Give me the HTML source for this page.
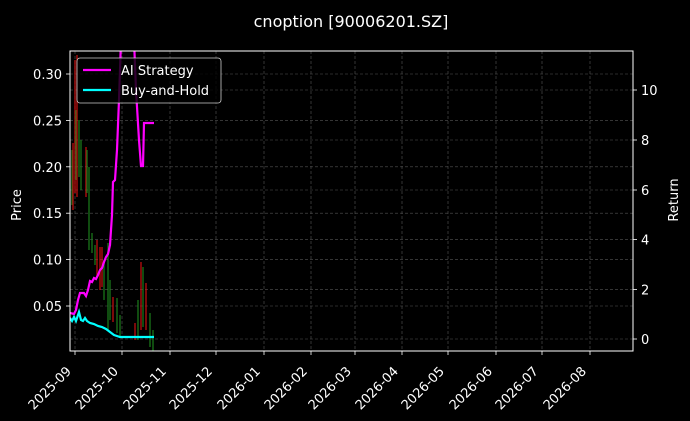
<!DOCTYPE html>
<html><head><meta charset="utf-8"><style>
html,body{margin:0;padding:0;background:#000;}
svg{display:block;font-family:"DejaVu Sans","Liberation Sans",sans-serif;}
</style></head><body>
<svg width="690" height="421" viewBox="0 0 690 421">
<rect width="690" height="421" fill="#000"/>
<text x="351" y="27" fill="#fff" font-size="16" text-anchor="middle">cnoption [90006201.SZ]</text>
<g stroke="#555" stroke-width="0.6" stroke-dasharray="3,2">
<line x1="75" y1="51" x2="75" y2="351"/><line x1="122" y1="51" x2="122" y2="351"/><line x1="170" y1="51" x2="170" y2="351"/><line x1="216" y1="51" x2="216" y2="351"/><line x1="264" y1="51" x2="264" y2="351"/><line x1="311" y1="51" x2="311" y2="351"/><line x1="355" y1="51" x2="355" y2="351"/><line x1="402" y1="51" x2="402" y2="351"/><line x1="448" y1="51" x2="448" y2="351"/><line x1="496" y1="51" x2="496" y2="351"/><line x1="542" y1="51" x2="542" y2="351"/><line x1="590" y1="51" x2="590" y2="351"/>
<line x1="70" y1="74" x2="633" y2="74"/><line x1="70" y1="120.4" x2="633" y2="120.4"/><line x1="70" y1="166.8" x2="633" y2="166.8"/><line x1="70" y1="213.2" x2="633" y2="213.2"/><line x1="70" y1="259.6" x2="633" y2="259.6"/><line x1="70" y1="306" x2="633" y2="306"/>
<line x1="70" y1="90" x2="633" y2="90"/><line x1="70" y1="140" x2="633" y2="140"/><line x1="70" y1="190" x2="633" y2="190"/><line x1="70" y1="239.6" x2="633" y2="239.6"/><line x1="70" y1="289.4" x2="633" y2="289.4"/><line x1="70" y1="339" x2="633" y2="339"/>
</g>
<g stroke-width="1.3" opacity="0.85">
<line x1="72" y1="150" x2="72" y2="205" stroke="#1f8a1f"/>
<line x1="73" y1="143" x2="73" y2="210" stroke="#d11"/>
<line x1="75" y1="60" x2="75" y2="193" stroke="#d11"/>
<line x1="76" y1="110" x2="76" y2="180" stroke="#1f8a1f"/>
<line x1="77" y1="55" x2="77" y2="197" stroke="#d11"/>
<line x1="79" y1="120" x2="79" y2="177" stroke="#1f8a1f"/>
<line x1="81" y1="140" x2="81" y2="190" stroke="#1f8a1f"/>
<line x1="86" y1="147" x2="86" y2="197" stroke="#d11"/>
<line x1="87" y1="150" x2="87" y2="193" stroke="#1f8a1f"/>
<line x1="89" y1="167" x2="89" y2="250" stroke="#1f8a1f"/>
<line x1="92" y1="233" x2="92" y2="253" stroke="#1f8a1f"/>
<line x1="95" y1="245" x2="95" y2="265" stroke="#1f8a1f"/>
<line x1="97" y1="240" x2="97" y2="277" stroke="#d11"/>
<line x1="100" y1="247" x2="100" y2="290" stroke="#d11"/>
<line x1="102" y1="247" x2="102" y2="287" stroke="#d11"/>
<line x1="104" y1="260" x2="104" y2="300" stroke="#1f8a1f"/>
<line x1="108" y1="243" x2="108" y2="330" stroke="#1f8a1f"/>
<line x1="110" y1="280" x2="110" y2="320" stroke="#1f8a1f"/>
<line x1="113" y1="297" x2="113" y2="322" stroke="#d11"/>
<line x1="117" y1="298" x2="117" y2="333" stroke="#1f8a1f"/>
<line x1="120" y1="315" x2="120" y2="338" stroke="#1f8a1f"/>
<line x1="135" y1="323" x2="135" y2="340" stroke="#d11"/>
<line x1="138" y1="300" x2="138" y2="340" stroke="#1f8a1f"/>
<line x1="141" y1="262" x2="141" y2="330" stroke="#d11"/>
<line x1="143" y1="267" x2="143" y2="327" stroke="#1f8a1f"/>
<line x1="146" y1="283" x2="146" y2="330" stroke="#d11"/>
<line x1="150" y1="313" x2="150" y2="347" stroke="#1f8a1f"/>
<line x1="153" y1="330" x2="153" y2="351" stroke="#1f8a1f"/>
</g>
<svg x="70" y="51" width="563" height="300" overflow="hidden">
<polyline transform="translate(-70,-51)" fill="none" stroke="#ff00ff" stroke-width="2.2" points="70,313 74,314 76,310 78,300 80,293 84,293 86,296 88,290 90,281 92,282 94,278 96,279 98,275 100,270 102,268 104,262 106,257 108,254 110,245 112,215 113,182 115,180 117,150 119,100 121,40 134,40 136,90 139,140 141,166 143,166 144,123 154,123"/>
<polyline transform="translate(-70,-51)" fill="none" stroke="#00ffff" stroke-width="2.2" points="70,318 72,321 74,317 76,321 78,315 79,312 81,320 83,321 85,318 87,321 90,323 94,324 98,326 102,327 106,329 110,332 114,335 120,337 154,337"/>
</svg>
<rect x="70" y="51" width="563" height="300" fill="none" stroke="#fff" stroke-width="1"/>
<rect x="77" y="58" width="144" height="45" rx="3" fill="#000" fill-opacity="0.8" stroke="#ccc" stroke-width="0.8"/>
<line x1="83" y1="70" x2="111" y2="70" stroke="#ff00ff" stroke-width="2.2"/>
<line x1="83" y1="90" x2="111" y2="90" stroke="#00ffff" stroke-width="2.2"/>
<g fill="#fff" font-size="13">
<text x="121" y="75">AI Strategy</text>
<text x="121" y="95">Buy-and-Hold</text>
</g>
<g stroke="#fff" stroke-width="0.8">
<line x1="66" y1="74" x2="70" y2="74"/><line x1="66" y1="120.4" x2="70" y2="120.4"/><line x1="66" y1="166.8" x2="70" y2="166.8"/><line x1="66" y1="213.2" x2="70" y2="213.2"/><line x1="66" y1="259.6" x2="70" y2="259.6"/><line x1="66" y1="306" x2="70" y2="306"/>
<line x1="633" y1="90" x2="637" y2="90"/><line x1="633" y1="140" x2="637" y2="140"/><line x1="633" y1="190" x2="637" y2="190"/><line x1="633" y1="239.6" x2="637" y2="239.6"/><line x1="633" y1="289.4" x2="637" y2="289.4"/><line x1="633" y1="339" x2="637" y2="339"/>
<line x1="75" y1="351" x2="75" y2="355"/><line x1="122" y1="351" x2="122" y2="355"/><line x1="170" y1="351" x2="170" y2="355"/><line x1="216" y1="351" x2="216" y2="355"/><line x1="264" y1="351" x2="264" y2="355"/><line x1="311" y1="351" x2="311" y2="355"/><line x1="355" y1="351" x2="355" y2="355"/><line x1="402" y1="351" x2="402" y2="355"/><line x1="448" y1="351" x2="448" y2="355"/><line x1="496" y1="351" x2="496" y2="355"/><line x1="542" y1="351" x2="542" y2="355"/><line x1="590" y1="351" x2="590" y2="355"/>
</g>
<g fill="#fff" font-size="13" text-anchor="end">
<text x="62" y="79">0.30</text><text x="62" y="125.4">0.25</text><text x="62" y="171.8">0.20</text><text x="62" y="218.2">0.15</text><text x="62" y="264.6">0.10</text><text x="62" y="311">0.05</text>
</g>
<g fill="#fff" font-size="13">
<text x="641" y="95">10</text><text x="641" y="145">8</text><text x="641" y="195">6</text><text x="641" y="244.6">4</text><text x="641" y="294.4">2</text><text x="641" y="344">0</text>
</g>
<text transform="translate(21,205) rotate(-90)" fill="#fff" font-size="13" text-anchor="middle">Price</text>
<text transform="translate(678,200) rotate(-90)" fill="#fff" font-size="13" text-anchor="middle">Return</text>
<g fill="#fff" font-size="13" text-anchor="end">
<text transform="translate(72,372) rotate(-45)">2025-09</text>
<text transform="translate(119,372) rotate(-45)">2025-10</text>
<text transform="translate(167,372) rotate(-45)">2025-11</text>
<text transform="translate(213,372) rotate(-45)">2025-12</text>
<text transform="translate(261,372) rotate(-45)">2026-01</text>
<text transform="translate(308,372) rotate(-45)">2026-02</text>
<text transform="translate(352,372) rotate(-45)">2026-03</text>
<text transform="translate(399,372) rotate(-45)">2026-04</text>
<text transform="translate(445,372) rotate(-45)">2026-05</text>
<text transform="translate(493,372) rotate(-45)">2026-06</text>
<text transform="translate(539,372) rotate(-45)">2026-07</text>
<text transform="translate(587,372) rotate(-45)">2026-08</text>
</g>
</svg>
</body></html>
